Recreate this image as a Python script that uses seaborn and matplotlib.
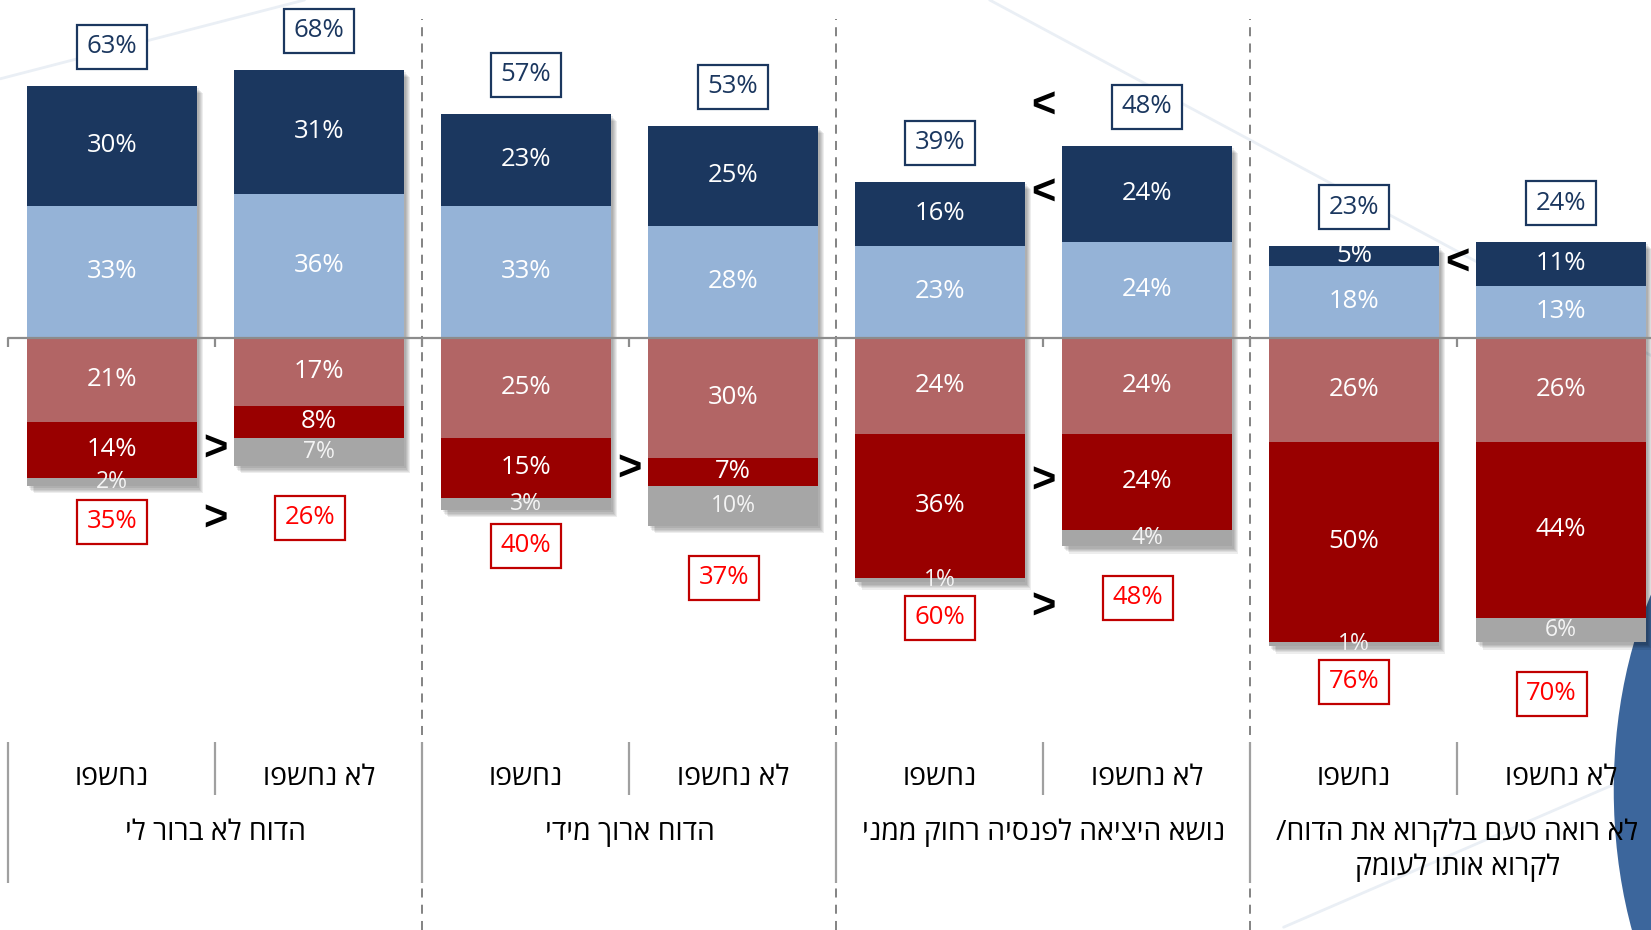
import numpy as np
import pandas as pd
import matplotlib
matplotlib.use("Agg")
import matplotlib.pyplot as plt
import seaborn as sns
from matplotlib import patheffects as pe
from matplotlib.patches import Ellipse
from matplotlib.lines import Line2D

# ---------------------------------------------------------------- data
topics = [
    "הדוח לא ברור לי",
    "הדוח ארוך מידי",
    "נושא היציאה לפנסיה רחוק ממני",
    "לא רואה טעם בלקרוא את הדוח/\nלקרוא אותו לעומק",
]
exposure = ["נחשפו", "לא נחשפו"]

# bars run left to right: topic 1 (exposed, not exposed), topic 2 (...), ...
strong_agree = [30, 31, 23, 25, 16, 24, 5, 11]
agree = [33, 36, 33, 28, 23, 24, 18, 13]
disagree = [21, 17, 25, 30, 24, 24, 26, 26]
strong_disagree = [14, 8, 15, 7, 36, 24, 50, 44]
dont_know = [2, 7, 3, 10, 1, 4, 1, 6]
agree_total = [63, 68, 57, 53, 39, 48, 23, 24]
disagree_total = [35, 26, 40, 37, 60, 48, 76, 70]

# significance marks between the two bars of a topic:
# (topic, sign, level the mark sits on, bar of the pair it refers to)
comparisons = [
    (0, ">", "strong_disagree", 0),
    (0, ">", "disagree_total", None),
    (1, ">", "strong_disagree", None),
    (2, "<", "agree_total", 1),
    (2, "<", "strong_agree", 1),
    (2, ">", "strong_disagree", 1),
    (2, ">", "disagree_total", None),
    (3, "<", "strong_agree", 1),
]

# ---------------------------------------------------------------- style
NAVY = "#1B375F"
LIGHT_BLUE = "#95B3D7"
ROSE = "#B26565"
DARK_RED = "#990000"
GREY = "#A6A6A6"
BOX_RED = "#C00000"
TEXT_RED = "#FF0000"

sns.set_style("white")
plt.rcParams["font.family"] = ["Open Sans", "DejaVu Sans"]


def rtl(s):
    """Lay Hebrew out visually (matplotlib draws left to right)."""
    return "\n".join(line[::-1] for line in s.split("\n"))


n = len(agree)
bars = [f"{t}|{e}" for t in range(len(topics)) for e in range(len(exposure))]
sa = np.array(strong_agree)
ag = np.array(agree)
di = np.array(disagree)
sd = np.array(strong_disagree)
dk = np.array(dont_know)

df = pd.DataFrame({
    "bar": bars,
    "pos_outer": ag + sa,
    "pos_inner": ag,
    "neg_outer": -(di + sd + dk),
    "neg_mid": -(di + sd),
    "neg_inner": -di,
})

fig = plt.figure(figsize=(16.51, 9.30), dpi=100)
ax = fig.add_axes([0, 0, 1, 1])

# decorative slide background
for (x0, y0), (x1, y1) in [((-0.54, 64.8), (0.93, 84.5)),
                           ((4.24, 84.5), (7.44, -4.5)),
                           ((5.66, -147.3), (7.27, -111.3))]:
    ax.add_line(Line2D([x0, x1], [y0, y1], color="#EAEFF5", lw=2.0, zorder=0))
ax.add_patch(Ellipse((8.22, -113), 1.93, 168, facecolor="#3C669C",
                     edgecolor="none", zorder=0.5))

width = 0.82
shadow = [pe.SimplePatchShadow(offset=(1.5 + 0.8 * i, -1.8 - 0.9 * i),
                               shadow_rgbFace="black", alpha=0.07)
          for i in range(5)] + [pe.Normal()]

layers = [("pos_outer", NAVY, True), ("pos_inner", LIGHT_BLUE, False),
          ("neg_outer", GREY, True), ("neg_mid", DARK_RED, False),
          ("neg_inner", ROSE, False)]
for col, colour, shade in layers:
    sns.barplot(data=df, x="bar", y=col, order=bars, color=colour,
                saturation=1, width=width, errorbar=None, ax=ax, zorder=2,
                edgecolor="none", linewidth=0)
    if shade:
        for patch in ax.containers[-1]:
            patch.set_path_effects(shadow)

x = np.arange(n)

# segment centres
c_agree = ag / 2
c_sagree = ag + sa / 2
c_dis = -di / 2
c_sdis = -(di + sd / 2)
c_dk = -(di + sd + dk / 2)

for i in range(n):
    for val, yc in [(sa[i], c_sagree[i]), (ag[i], c_agree[i]),
                    (di[i], c_dis[i]), (sd[i], c_sdis[i])]:
        ax.text(x[i], yc, f"{val}%", color="white", fontsize=18.5,
                ha="center", va="center", zorder=6)
    ax.text(x[i], c_dk[i], f"{dk[i]}%", color="#F4F4F4", fontsize=16.5,
            ha="center", va="center", zorder=6)

# totals above / below each bar
pos_box_y = ag + sa + 9.75
neg_box_y = -(di + sd + dk) - np.where(x % 2 == 0, 9.0, 13.0)
neg_box_x = x - np.where(x % 2 == 0, 0.0, 0.045)
for i in range(n):
    ax.text(x[i], pos_box_y[i], f"{agree_total[i]}%", color=NAVY,
            fontsize=18.5, ha="center", va="center", zorder=7,
            bbox=dict(boxstyle="square,pad=0.38", fc="white", ec=NAVY, lw=1.6))
    ax.text(neg_box_x[i], neg_box_y[i], f"{disagree_total[i]}%",
            color=TEXT_RED, fontsize=18.5, ha="center", va="center", zorder=7,
            bbox=dict(boxstyle="square,pad=0.38", fc="white", ec=BOX_RED, lw=1.6))

# significance marks
levels = {"strong_disagree": c_sdis, "strong_agree": c_sagree,
          "agree_total": pos_box_y, "disagree_total": neg_box_y}
for topic, sign, level, anchor in comparisons:
    pair = [2 * topic, 2 * topic + 1]
    ys = levels[level][pair]
    yv = ys[anchor] if anchor is not None else ys.mean()
    ax.text(2 * topic + 0.5, yv, sign, family="Liberation Sans",
            fontweight="bold", fontsize=30, color="black",
            ha="center", va="center", zorder=7)

# zero line with slot ticks
ax.plot([-0.5, n], [0, 0], color="#8C8C8C", lw=1.6, zorder=5)
ax.vlines(np.arange(-0.5, n, 1.0), -2.2, 0, color="#8C8C8C", lw=1.6, zorder=5)

# dashed topic separators
ax.vlines(np.arange(1.5, n - 1, 2.0), -148, 79.8, color="#7A7A7A", lw=1.3,
          linestyles=(0, (5, 4)), zorder=1)

# category axis at the bottom
ax.vlines(np.arange(0.5, n, 2.0), -114.3, -101, color="#A0A0A0", lw=1.6)
ax.vlines(np.arange(-0.5, n - 1, 2.0), -136.3, -101, color="#A0A0A0", lw=1.6)
for i in range(n):
    ax.text(x[i], -110, rtl(exposure[i % 2]), fontsize=20.5, color="black",
            ha="center", va="center", zorder=7)
for t, name in enumerate(topics):
    for k, line in enumerate(name.split("\n")):
        ax.text(2 * t + 0.5, -123.75 - 8.75 * k, rtl(line), fontsize=20.5,
                color="black", ha="center", va="center", zorder=7)

ax.set_xlim(-0.541, 7.435)
ax.set_ylim(-148, 84.5)
ax.set_axis_off()

fig.savefig("out.png", dpi=100, facecolor="white")
